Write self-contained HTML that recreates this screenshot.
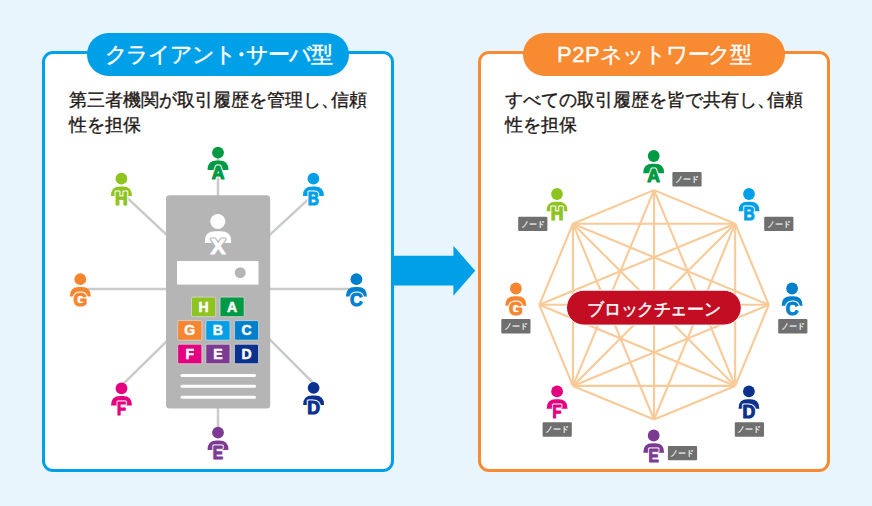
<!DOCTYPE html>
<html lang="ja"><head><meta charset="utf-8"><style>
*{margin:0;padding:0;box-sizing:border-box}
html,body{width:872px;height:506px;overflow:hidden;background:#e8f5fd;font-family:"Liberation Sans",sans-serif}
.box{position:absolute;top:51px;width:352px;height:421px;border:3px solid;border-radius:11px;background:#fff}
.pill{position:absolute;top:32.6px;width:262px;height:43.4px;border-radius:22px;color:#fff;font-size:22px;letter-spacing:-1.2px;line-height:43.4px;text-align:center;white-space:nowrap;-webkit-text-stroke:0.4px #fff}
.desc{position:absolute;top:87.5px;font-size:18px;line-height:25px;color:#231815;white-space:nowrap;-webkit-text-stroke:0.35px #231815}
.nar{margin-right:-8px}
.dot{margin:0 -5px}
svg{position:absolute;left:0;top:0}
.pl{font-family:"Liberation Sans",sans-serif;font-weight:bold;font-size:17.6px;text-anchor:middle;stroke-width:1.1px;stroke-linejoin:round}
.plo{font-family:"Liberation Sans",sans-serif;font-weight:bold;font-size:17.6px;text-anchor:middle;fill:#fff;stroke:#fff;stroke-width:3.2px;stroke-linejoin:round}
.tl{font-family:"Liberation Sans",sans-serif;font-weight:bold;font-size:14px;text-anchor:middle;fill:#fff;stroke:#fff;stroke-width:0.5px}
.sx{font-family:"Liberation Sans",sans-serif;font-weight:bold;font-size:22.8px;text-anchor:middle;fill:#fff;stroke:#fff;stroke-width:0.8px}
.sxo{font-family:"Liberation Sans",sans-serif;font-weight:bold;font-size:22.8px;text-anchor:middle;fill:#b5b5b6;stroke:#b5b5b6;stroke-width:3.2px;stroke-linejoin:round}
.node{position:absolute;width:29.2px;height:14.4px;font-size:8.4px;line-height:15px;color:#fff;text-align:center;white-space:nowrap;-webkit-text-stroke:0.15px #fff}
.bc{position:absolute;left:566.5px;top:292.2px;width:174.8px;height:34.9px;line-height:34.9px;color:#fff;font-size:17.4px;letter-spacing:-0.4px;text-align:center;white-space:nowrap;-webkit-text-stroke:0.45px #fff}
</style></head><body>
<div class="box" style="left:42px;border-color:#00a0e9"></div>
<div class="box" style="left:478px;border-color:#f88a31"></div>
<div class="pill" style="left:87px;background:#00a0e9">クライアント<span class="dot">・</span>サーバ型</div>
<div class="pill" style="left:523px;background:#f88a31"><span style="letter-spacing:0.6px">P2P</span>ネットワーク型</div>
<div class="desc" style="left:69px">第三者機関が取引履歴を管理し<span class="nar">、</span>信頼<br>性を担保</div>
<div class="desc" style="left:505px">すべての取引履歴を皆で共有し<span class="nar">、</span>信頼<br>性を担保</div>
<svg width="872" height="506" viewBox="0 0 872 506">
<polygon points="393,255.8 453.4,255.8 453.4,245.8 475.2,270.7 453.4,295.7 453.4,285.5 393,285.5" fill="#00a0e9"/>
<line x1="218" y1="152" x2="218" y2="210" stroke="#c9caca" stroke-width="2.5"/>
<line x1="121.4" y1="192.4" x2="190" y2="256.7" stroke="#c9caca" stroke-width="2.5"/>
<line x1="313.4" y1="194.7" x2="246" y2="256.7" stroke="#c9caca" stroke-width="2.5"/>
<line x1="80" y1="289" x2="190" y2="289" stroke="#c9caca" stroke-width="2.5"/>
<line x1="356" y1="289" x2="246" y2="289" stroke="#c9caca" stroke-width="2.5"/>
<line x1="121.5" y1="385.6" x2="190" y2="318.4" stroke="#c9caca" stroke-width="2.5"/>
<line x1="313.6" y1="383.3" x2="246" y2="315.7" stroke="#c9caca" stroke-width="2.5"/>
<line x1="218" y1="390" x2="218" y2="432" stroke="#c9caca" stroke-width="2.5"/>
<rect x="166" y="195.2" width="104.2" height="213.2" rx="3.5" fill="#b5b5b6"/>
<circle cx="217.8" cy="221.5" r="7.5" fill="#fff"/>
<path d="M204.9,243 V241 Q204.9,231.2 215,231.2 H221 Q231.1,231.2 231.1,241 V243 Z" fill="#fff"/>
<text x="218" y="254.2" class="sxo">X</text>
<text x="218" y="254.2" class="sx">X</text>
<rect x="177" y="261" width="81.5" height="23.6" fill="#fff"/>
<circle cx="240.2" cy="272.7" r="5.5" fill="#b5b5b6"/>
<rect x="191.5" y="297.1" width="24.2" height="19.6" rx="1.5" fill="#8fc31f" stroke="#d8d8d8" stroke-width="0.8"/>
<text x="203.60" y="311.60" class="tl">H</text>
<rect x="220" y="297.1" width="24.2" height="19.6" rx="1.5" fill="#009944" stroke="#d8d8d8" stroke-width="0.8"/>
<text x="232.10" y="311.60" class="tl">A</text>
<rect x="177.7" y="320.6" width="24.2" height="19.6" rx="1.5" fill="#f5862f" stroke="#d8d8d8" stroke-width="0.8"/>
<text x="189.80" y="335.10" class="tl">G</text>
<rect x="205.8" y="320.6" width="24.2" height="19.6" rx="1.5" fill="#00a0e9" stroke="#d8d8d8" stroke-width="0.8"/>
<text x="217.90" y="335.10" class="tl">B</text>
<rect x="234.4" y="320.6" width="24.2" height="19.6" rx="1.5" fill="#0080cc" stroke="#d8d8d8" stroke-width="0.8"/>
<text x="246.50" y="335.10" class="tl">C</text>
<rect x="177.7" y="344.2" width="24.2" height="19.6" rx="1.5" fill="#e4007f" stroke="#d8d8d8" stroke-width="0.8"/>
<text x="189.80" y="358.70" class="tl">F</text>
<rect x="205.8" y="344.2" width="24.2" height="19.6" rx="1.5" fill="#7d3a92" stroke="#d8d8d8" stroke-width="0.8"/>
<text x="217.90" y="358.70" class="tl">E</text>
<rect x="234.4" y="344.2" width="24.2" height="19.6" rx="1.5" fill="#0b318f" stroke="#d8d8d8" stroke-width="0.8"/>
<text x="246.50" y="358.70" class="tl">D</text>
<line x1="182" y1="375.4" x2="254.5" y2="375.4" stroke="#fff" stroke-width="3" stroke-linecap="round"/>
<line x1="182" y1="386.3" x2="254.5" y2="386.3" stroke="#fff" stroke-width="3" stroke-linecap="round"/>
<line x1="182" y1="397.2" x2="254.5" y2="397.2" stroke="#fff" stroke-width="3" stroke-linecap="round"/>
<circle cx="218.00" cy="152.60" r="5.9" fill="#009944"/><path d="M207.60,169.90 V169.40 Q207.60,160.40 216.60,160.40 H219.40 Q228.40,160.40 228.40,169.40 V169.90 Z" fill="#009944"/><text x="218.00" y="179.00" class="plo">A</text><text x="218.00" y="179.00" class="pl" fill="#009944" stroke="#009944">A</text>
<circle cx="121.40" cy="178.70" r="5.9" fill="#8fc31f"/><path d="M111.00,196.00 V195.50 Q111.00,186.50 120.00,186.50 H122.80 Q131.80,186.50 131.80,195.50 V196.00 Z" fill="#8fc31f"/><text x="121.40" y="205.10" class="plo">H</text><text x="121.40" y="205.10" class="pl" fill="#8fc31f" stroke="#8fc31f">H</text>
<circle cx="313.40" cy="178.70" r="5.9" fill="#00a0e9"/><path d="M303.00,196.00 V195.50 Q303.00,186.50 312.00,186.50 H314.80 Q323.80,186.50 323.80,195.50 V196.00 Z" fill="#00a0e9"/><text x="313.40" y="205.10" class="plo" transform="translate(313.40,0) scale(0.88,1) translate(-313.40,0)">B</text><text x="313.40" y="205.10" class="pl" fill="#00a0e9" stroke="#00a0e9" transform="translate(313.40,0) scale(0.88,1) translate(-313.40,0)">B</text>
<circle cx="80.30" cy="279.20" r="5.9" fill="#f5862f"/><path d="M69.90,296.50 V296.00 Q69.90,287.00 78.90,287.00 H81.70 Q90.70,287.00 90.70,296.00 V296.50 Z" fill="#f5862f"/><text x="80.30" y="305.60" class="plo">G</text><text x="80.30" y="305.60" class="pl" fill="#f5862f" stroke="#f5862f">G</text>
<circle cx="356.40" cy="279.20" r="5.9" fill="#0080cc"/><path d="M346.00,296.50 V296.00 Q346.00,287.00 355.00,287.00 H357.80 Q366.80,287.00 366.80,296.00 V296.50 Z" fill="#0080cc"/><text x="356.40" y="305.60" class="plo">C</text><text x="356.40" y="305.60" class="pl" fill="#0080cc" stroke="#0080cc">C</text>
<circle cx="121.50" cy="388.30" r="5.9" fill="#e4007f"/><path d="M111.10,405.60 V405.10 Q111.10,396.10 120.10,396.10 H122.90 Q131.90,396.10 131.90,405.10 V405.60 Z" fill="#e4007f"/><text x="121.50" y="414.70" class="plo" transform="translate(121.50,0) scale(0.84,1) translate(-121.50,0)">F</text><text x="121.50" y="414.70" class="pl" fill="#e4007f" stroke="#e4007f" transform="translate(121.50,0) scale(0.84,1) translate(-121.50,0)">F</text>
<circle cx="313.60" cy="387.80" r="5.9" fill="#0b318f"/><path d="M303.20,405.10 V404.60 Q303.20,395.60 312.20,395.60 H315.00 Q324.00,395.60 324.00,404.60 V405.10 Z" fill="#0b318f"/><text x="313.60" y="414.20" class="plo">D</text><text x="313.60" y="414.20" class="pl" fill="#0b318f" stroke="#0b318f">D</text>
<circle cx="218.00" cy="432.60" r="5.9" fill="#7d3a92"/><path d="M207.60,449.90 V449.40 Q207.60,440.40 216.60,440.40 H219.40 Q228.40,440.40 228.40,449.40 V449.90 Z" fill="#7d3a92"/><text x="218.00" y="459.00" class="plo" transform="translate(218.00,0) scale(0.88,1) translate(-218.00,0)">E</text><text x="218.00" y="459.00" class="pl" fill="#7d3a92" stroke="#7d3a92" transform="translate(218.00,0) scale(0.88,1) translate(-218.00,0)">E</text>
<line x1="654.05" y1="190.10" x2="735.16" y2="223.69" stroke="#f8ca98" stroke-width="2.1"/>
<line x1="654.05" y1="190.10" x2="735.16" y2="385.91" stroke="#f8ca98" stroke-width="2.1"/>
<line x1="654.05" y1="190.10" x2="654.05" y2="419.50" stroke="#f8ca98" stroke-width="2.1"/>
<line x1="654.05" y1="190.10" x2="572.94" y2="385.91" stroke="#f8ca98" stroke-width="2.1"/>
<line x1="654.05" y1="190.10" x2="572.94" y2="223.69" stroke="#f8ca98" stroke-width="2.1"/>
<line x1="735.16" y1="223.69" x2="768.75" y2="304.80" stroke="#f8ca98" stroke-width="2.1"/>
<line x1="735.16" y1="223.69" x2="735.16" y2="385.91" stroke="#f8ca98" stroke-width="2.1"/>
<line x1="735.16" y1="223.69" x2="654.05" y2="419.50" stroke="#f8ca98" stroke-width="2.1"/>
<line x1="735.16" y1="223.69" x2="572.94" y2="385.91" stroke="#f8ca98" stroke-width="2.1"/>
<line x1="735.16" y1="223.69" x2="539.35" y2="304.80" stroke="#f8ca98" stroke-width="2.1"/>
<line x1="735.16" y1="223.69" x2="572.94" y2="223.69" stroke="#f8ca98" stroke-width="2.1"/>
<line x1="768.75" y1="304.80" x2="735.16" y2="385.91" stroke="#f8ca98" stroke-width="2.1"/>
<line x1="768.75" y1="304.80" x2="572.94" y2="385.91" stroke="#f8ca98" stroke-width="2.1"/>
<line x1="768.75" y1="304.80" x2="539.35" y2="304.80" stroke="#f8ca98" stroke-width="2.1"/>
<line x1="768.75" y1="304.80" x2="572.94" y2="223.69" stroke="#f8ca98" stroke-width="2.1"/>
<line x1="735.16" y1="385.91" x2="654.05" y2="419.50" stroke="#f8ca98" stroke-width="2.1"/>
<line x1="735.16" y1="385.91" x2="572.94" y2="385.91" stroke="#f8ca98" stroke-width="2.1"/>
<line x1="735.16" y1="385.91" x2="539.35" y2="304.80" stroke="#f8ca98" stroke-width="2.1"/>
<line x1="735.16" y1="385.91" x2="572.94" y2="223.69" stroke="#f8ca98" stroke-width="2.1"/>
<line x1="654.05" y1="419.50" x2="572.94" y2="385.91" stroke="#f8ca98" stroke-width="2.1"/>
<line x1="654.05" y1="419.50" x2="572.94" y2="223.69" stroke="#f8ca98" stroke-width="2.1"/>
<line x1="572.94" y1="385.91" x2="539.35" y2="304.80" stroke="#f8ca98" stroke-width="2.1"/>
<line x1="572.94" y1="385.91" x2="572.94" y2="223.69" stroke="#f8ca98" stroke-width="2.1"/>
<line x1="539.35" y1="304.80" x2="572.94" y2="223.69" stroke="#f8ca98" stroke-width="2.1"/>
<rect x="566.5" y="290.2" width="174.8" height="34.9" rx="17.45" fill="#c30d23" stroke="#fff" stroke-width="1"/>
<circle cx="653.70" cy="156.00" r="5.9" fill="#009944"/><path d="M643.30,173.30 V172.80 Q643.30,163.80 652.30,163.80 H655.10 Q664.10,163.80 664.10,172.80 V173.30 Z" fill="#009944"/><text x="653.70" y="182.40" class="plo">A</text><text x="653.70" y="182.40" class="pl" fill="#009944" stroke="#009944">A</text>
<circle cx="557.00" cy="194.00" r="5.9" fill="#8fc31f"/><path d="M546.60,211.30 V210.80 Q546.60,201.80 555.60,201.80 H558.40 Q567.40,201.80 567.40,210.80 V211.30 Z" fill="#8fc31f"/><text x="557.00" y="220.40" class="plo">H</text><text x="557.00" y="220.40" class="pl" fill="#8fc31f" stroke="#8fc31f">H</text>
<circle cx="749.00" cy="194.00" r="5.9" fill="#00a0e9"/><path d="M738.60,211.30 V210.80 Q738.60,201.80 747.60,201.80 H750.40 Q759.40,201.80 759.40,210.80 V211.30 Z" fill="#00a0e9"/><text x="749.00" y="220.40" class="plo" transform="translate(749.00,0) scale(0.88,1) translate(-749.00,0)">B</text><text x="749.00" y="220.40" class="pl" fill="#00a0e9" stroke="#00a0e9" transform="translate(749.00,0) scale(0.88,1) translate(-749.00,0)">B</text>
<circle cx="515.90" cy="288.50" r="5.9" fill="#f5862f"/><path d="M505.50,305.80 V305.30 Q505.50,296.30 514.50,296.30 H517.30 Q526.30,296.30 526.30,305.30 V305.80 Z" fill="#f5862f"/><text x="515.90" y="314.90" class="plo">G</text><text x="515.90" y="314.90" class="pl" fill="#f5862f" stroke="#f5862f">G</text>
<circle cx="792.10" cy="288.50" r="5.9" fill="#0080cc"/><path d="M781.70,305.80 V305.30 Q781.70,296.30 790.70,296.30 H793.50 Q802.50,296.30 802.50,305.30 V305.80 Z" fill="#0080cc"/><text x="792.10" y="314.90" class="plo">C</text><text x="792.10" y="314.90" class="pl" fill="#0080cc" stroke="#0080cc">C</text>
<circle cx="557.10" cy="391.40" r="5.9" fill="#e4007f"/><path d="M546.70,408.70 V408.20 Q546.70,399.20 555.70,399.20 H558.50 Q567.50,399.20 567.50,408.20 V408.70 Z" fill="#e4007f"/><text x="557.10" y="417.80" class="plo" transform="translate(557.10,0) scale(0.84,1) translate(-557.10,0)">F</text><text x="557.10" y="417.80" class="pl" fill="#e4007f" stroke="#e4007f" transform="translate(557.10,0) scale(0.84,1) translate(-557.10,0)">F</text>
<circle cx="748.90" cy="391.40" r="5.9" fill="#0b318f"/><path d="M738.50,408.70 V408.20 Q738.50,399.20 747.50,399.20 H750.30 Q759.30,399.20 759.30,408.20 V408.70 Z" fill="#0b318f"/><text x="748.90" y="417.80" class="plo">D</text><text x="748.90" y="417.80" class="pl" fill="#0b318f" stroke="#0b318f">D</text>
<circle cx="653.70" cy="435.50" r="5.9" fill="#7d3a92"/><path d="M643.30,452.80 V452.30 Q643.30,443.30 652.30,443.30 H655.10 Q664.10,443.30 664.10,452.30 V452.80 Z" fill="#7d3a92"/><text x="653.70" y="461.90" class="plo" transform="translate(653.70,0) scale(0.88,1) translate(-653.70,0)">E</text><text x="653.70" y="461.90" class="pl" fill="#7d3a92" stroke="#7d3a92" transform="translate(653.70,0) scale(0.88,1) translate(-653.70,0)">E</text>
<rect x="672.4" y="172" width="29.2" height="14.4" rx="1" fill="#6f6f6f"/>
<rect x="518.2" y="216.7" width="29.2" height="14.4" rx="1" fill="#6f6f6f"/>
<rect x="764.2" y="216.7" width="29.2" height="14.4" rx="1" fill="#6f6f6f"/>
<rect x="501.3" y="319" width="29.2" height="14.4" rx="1" fill="#6f6f6f"/>
<rect x="778.2" y="319" width="29.2" height="14.4" rx="1" fill="#6f6f6f"/>
<rect x="542.6" y="422.3" width="29.2" height="14.4" rx="1" fill="#6f6f6f"/>
<rect x="734.8" y="422.3" width="29.2" height="14.4" rx="1" fill="#6f6f6f"/>
<rect x="667.9" y="445.9" width="29.2" height="14.4" rx="1" fill="#6f6f6f"/>
</svg>
<div class="bc">ブロックチェーン</div>
<div class="node" style="left:672.4px;top:172px">ノード</div><div class="node" style="left:518.2px;top:216.7px">ノード</div><div class="node" style="left:764.2px;top:216.7px">ノード</div><div class="node" style="left:501.3px;top:319px">ノード</div><div class="node" style="left:778.2px;top:319px">ノード</div><div class="node" style="left:542.6px;top:422.3px">ノード</div><div class="node" style="left:734.8px;top:422.3px">ノード</div><div class="node" style="left:667.9px;top:445.9px">ノード</div>
</body></html>
